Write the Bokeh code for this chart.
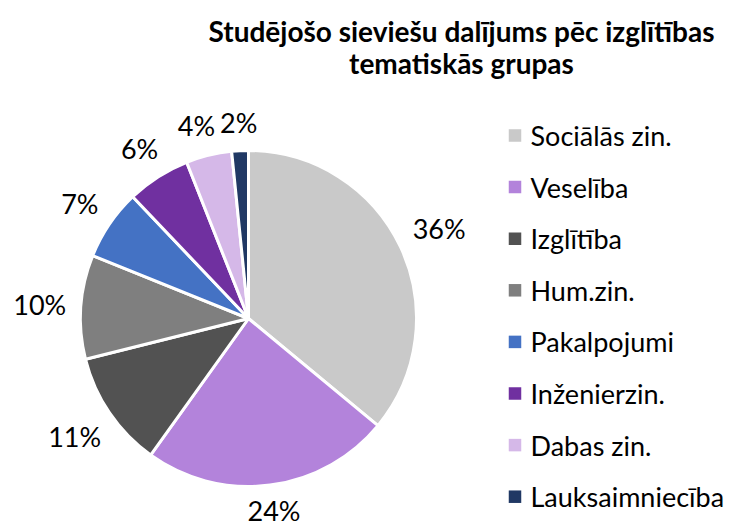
import math
from bokeh.plotting import figure
from bokeh.models import Range1d, ColumnDataSource
from bokeh.core.properties import value
from bokeh.embed import file_html
from bokeh.resources import INLINE

# ---- data ----
categories = ["Sociālās zin.", "Veselība", "Izglītība", "Hum.zin.",
              "Pakalpojumi", "Inženierzin.", "Dabas zin.", "Lauksaimniecība"]
shares = [36.0, 23.9, 11.2, 10.0, 6.8, 6.1, 4.4, 1.6]
colors = ["#C9C9C9", "#B383DB", "#525252", "#7F7F7F",
          "#4472C4", "#7030A0", "#D5B8E8", "#203864"]
title_lines = ["Studējošo sieviešu dalījums pēc izglītības", "tematiskās grupas"]

FONT = "Lato"
W, H = 748, 526
p = figure(width=W, height=H, output_backend="svg", toolbar_location=None,
           x_range=Range1d(0, W), y_range=Range1d(0, H), min_border=0)
p.axis.visible = False
p.grid.visible = False
p.outline_line_color = None
p.background_fill_color = "white"
p.border_fill_color = "white"

# ---- pie ----
cx, cy, R = 248, 208, 168
total = sum(shares)
starts, ends, mids = [], [], []
cum = 0.0
for s in shares:
    a0 = math.pi / 2 - 2 * math.pi * cum / total
    cum += s
    a1 = math.pi / 2 - 2 * math.pi * cum / total
    starts.append(a0)
    ends.append(a1)
    mids.append((a0 + a1) / 2)

src = ColumnDataSource(dict(start=starts, end=ends, color=colors))
p.wedge(x=cx, y=cy, radius=R, start_angle="start", end_angle="end",
        direction="clock", fill_color="color", line_color="white",
        line_width=3, source=src)

# ---- data labels (outside end) ----
fs = 27
gap = 18
lx, ly, lt, lw = [], [], [], []
for s, m in zip(shares, mids):
    txt = f"{round(s / total * 100)}%"
    w = len(txt) * 0.56 * fs
    h = 0.72 * fs
    dx, dy = math.cos(m), math.sin(m)
    half = abs(dx) * w / 2 + abs(dy) * h / 2
    r = R + gap + half
    lx.append(cx + r * dx)
    ly.append(max(cy + r * dy, 0.58 * fs))
    lt.append(txt)
    lw.append(w)
# simple overlap avoidance between neighbouring labels (push earlier one left)
for i in range(len(lt) - 2, -1, -1):
    if abs(ly[i] - ly[i + 1]) < 0.8 * fs:
        right_i = lx[i] + lw[i] / 2
        left_n = lx[i + 1] - lw[i + 1] / 2
        need = right_i - left_n + 12
        if need > 0:
            lx[i] -= need
p.text(x=lx, y=ly, text=lt, text_align="center", text_baseline="middle",
       text_font=value(FONT), text_font_size=f"{fs}px", text_color="#000000")

# ---- legend ----
leg_x, leg_y0, leg_step = 514.5, 391, 51.6
ys = [leg_y0 - i * leg_step for i in range(len(categories))]
p.rect(x=[leg_x] * len(categories), y=ys, width=12.5, height=12.5,
       fill_color=colors, line_color=None)
p.text(x=[leg_x + 15.5] * len(categories), y=ys, text=categories,
       text_align="left", text_baseline="middle",
       text_font=value(FONT), text_font_size=f"{fs}px", text_color="#000000")

# ---- title ----
p.text(x=[461, 461], y=[496, 464], text=title_lines, text_align="center",
       text_baseline="alphabetic", text_font=value(FONT),
       text_font_size="28px", text_font_style="bold", text_color="#000000")

open("out.html", "w").write(file_html(p, INLINE))
